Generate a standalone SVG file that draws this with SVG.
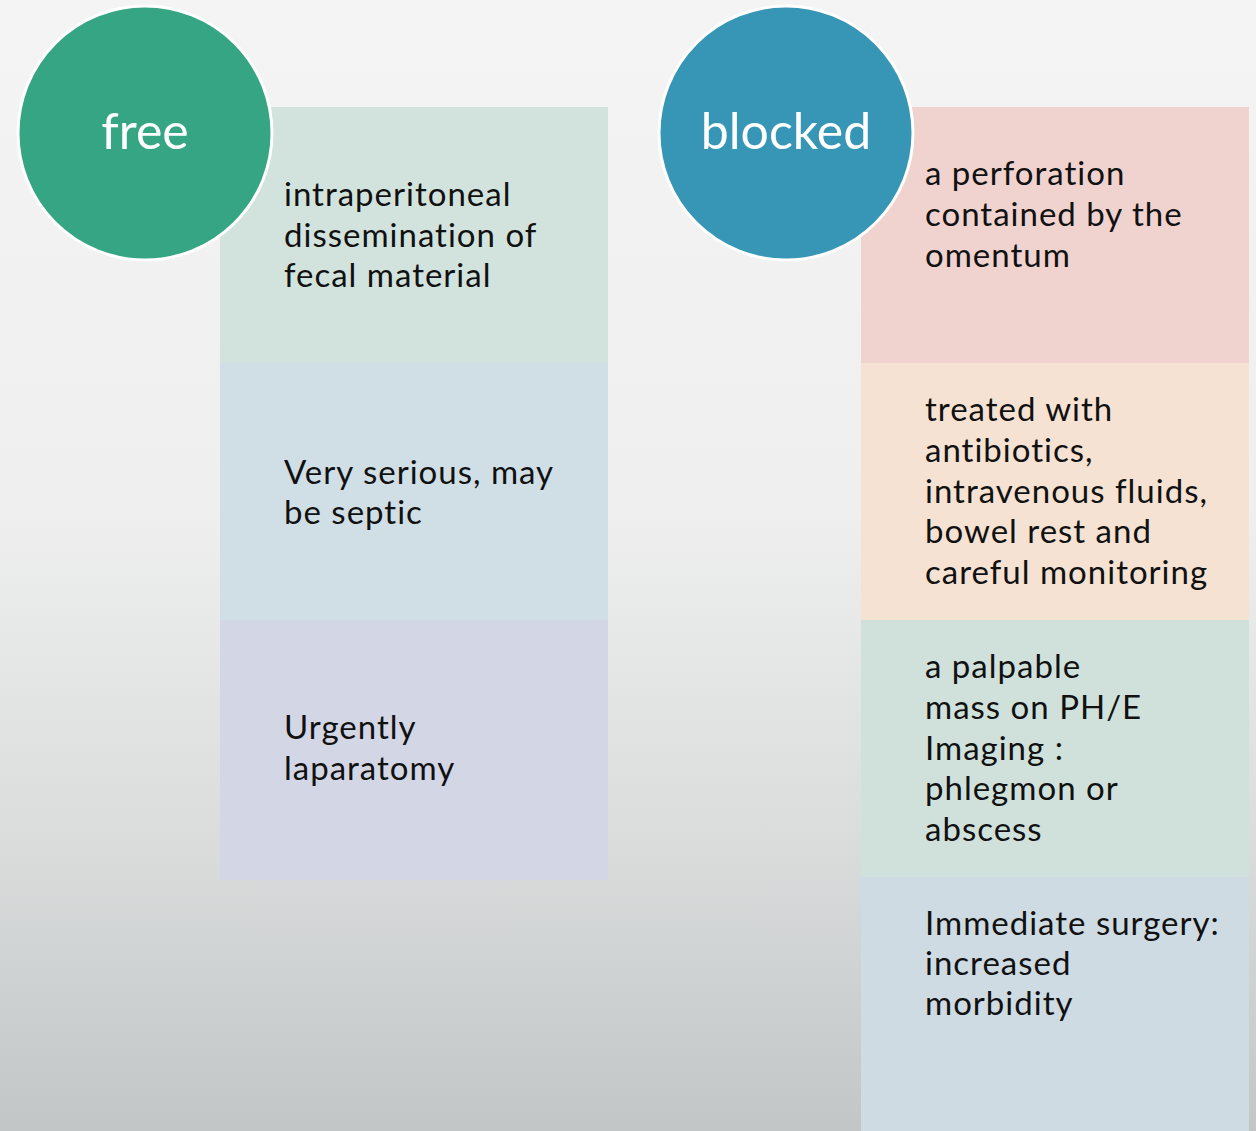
<svg xmlns="http://www.w3.org/2000/svg" width="1256" height="1131" viewBox="0 0 1256 1131">
  <defs>
    <linearGradient id="bg" x1="0" y1="0" x2="0" y2="1">
      <stop offset="0" stop-color="#f3f4f3"/>
      <stop offset="0.45" stop-color="#eeefee"/>
      <stop offset="0.75" stop-color="#dadcdc"/>
      <stop offset="1" stop-color="#c2c6c6"/>
    </linearGradient>
    <style>
      .body { font-family: Lato, "Open Sans", "Liberation Sans", sans-serif; font-size: 33px; letter-spacing: 1px; fill: #111; }
      .head { font-family: Lato, "Open Sans", "Liberation Sans", sans-serif; font-size: 50px; fill: #ffffff; text-anchor: middle; }
      .disc { stroke: #ffffff; stroke-width: 3; }
    </style>
  </defs>

  <rect width="1256" height="1131" fill="url(#bg)"/>

  <!-- left column: free perforation -->
  <g id="free-box-1">
    <rect x="220" y="107" width="388" height="256" fill="#d2e3dd"/>
    <text class="body">
      <tspan x="284" y="206">intraperitoneal</tspan>
      <tspan x="284" y="247">dissemination of</tspan>
      <tspan x="284" y="287">fecal material</tspan>
    </text>
  </g>
  <g id="free-box-2">
    <rect x="220" y="363" width="388" height="257" fill="#d0dee5"/>
    <text class="body">
      <tspan x="284" y="484">Very serious, may</tspan>
      <tspan x="284" y="524">be septic</tspan>
    </text>
  </g>
  <g id="free-box-3">
    <rect x="220" y="620" width="388" height="260" fill="#d3d6e5"/>
    <text class="body">
      <tspan x="284" y="739">Urgently</tspan>
      <tspan x="284" y="780">laparatomy</tspan>
    </text>
  </g>
  <g id="free">
    <circle class="disc" cx="145" cy="133" r="127" fill="#35a583"/>
    <text class="head" x="145" y="149">free</text>
  </g>

  <!-- right column: blocked perforation -->
  <g id="blocked-box-1">
    <rect x="861" y="107" width="388" height="256" fill="#f0d3cf"/>
    <text class="body">
      <tspan x="925" y="185">a perforation</tspan>
      <tspan x="925" y="226">contained by the</tspan>
      <tspan x="925" y="267">omentum</tspan>
    </text>
  </g>
  <g id="blocked-box-2">
    <rect x="861" y="363" width="388" height="257" fill="#f5e2d2"/>
    <text class="body">
      <tspan x="925" y="421">treated with</tspan>
      <tspan x="925" y="462">antibiotics,</tspan>
      <tspan x="925" y="503">intravenous fluids,</tspan>
      <tspan x="925" y="543">bowel rest and</tspan>
      <tspan x="925" y="584">careful monitoring</tspan>
    </text>
  </g>
  <g id="blocked-box-3">
    <rect x="861" y="620" width="388" height="257" fill="#d0e1dc"/>
    <text class="body">
      <tspan x="925" y="678">a palpable</tspan>
      <tspan x="925" y="719">mass on PH/E</tspan>
      <tspan x="925" y="760">Imaging :</tspan>
      <tspan x="925" y="800">phlegmon or</tspan>
      <tspan x="925" y="841">abscess</tspan>
    </text>
  </g>
  <g id="blocked-box-4">
    <rect x="861" y="877" width="388" height="254" fill="#cfdbe3"/>
    <text class="body">
      <tspan x="925" y="935">Immediate surgery:</tspan>
      <tspan x="925" y="975">increased</tspan>
      <tspan x="925" y="1015">morbidity</tspan>
    </text>
  </g>
  <g id="blocked">
    <circle class="disc" cx="786" cy="133" r="127" fill="#3795b5"/>
    <text class="head" x="786" y="149">blocked</text>
  </g>

  <g id="connectors"/>
</svg>
